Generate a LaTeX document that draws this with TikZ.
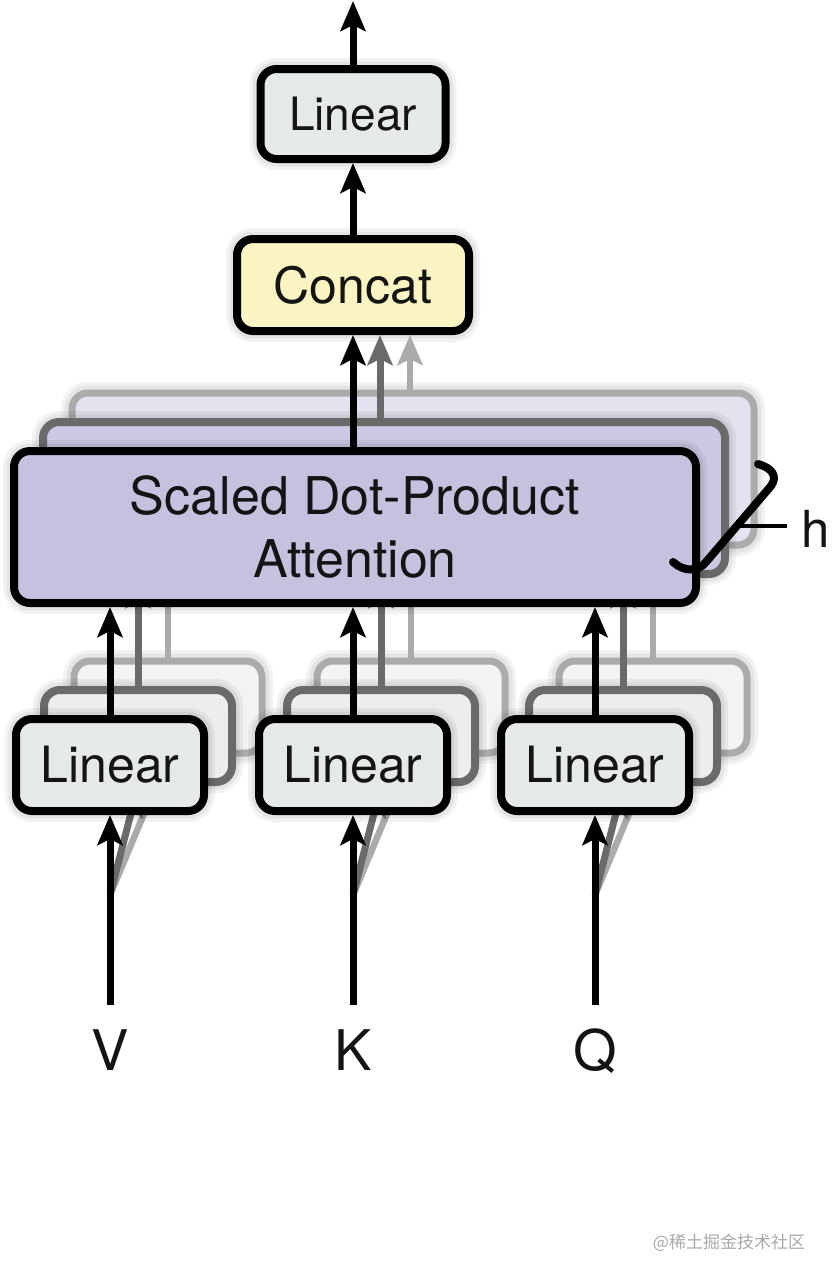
\documentclass[tikz,border=0pt]{standalone}
\usepackage{fontspec}
\setmainfont{TeX Gyre Heros}
\newfontfamily\cjkwm{Noto Sans CJK SC}
\usetikzlibrary{arrows.meta,calc}
\definecolor{txt}{HTML}{141414}
\definecolor{linA}{HTML}{E6E9E9}
\definecolor{linB}{HTML}{ECEEEE}
\definecolor{linC}{HTML}{F2F3F3}
\definecolor{conc}{HTML}{FAF4C2}
\definecolor{attA}{HTML}{C5C1DF}
\definecolor{attB}{HTML}{CCC8E3}
\definecolor{attC}{HTML}{E4E2EE}
\definecolor{grayB}{HTML}{6A6A6A}
\definecolor{grayC}{HTML}{ABABAB}
\definecolor{wm}{HTML}{A8A8A8}
\begin{document}
\begin{tikzpicture}[x=1pt,y=-1pt,
  haloeff/.style={preaction={draw=black,draw opacity=0.05,line width=22pt},
                  preaction={draw=black,draw opacity=0.06,line width=15pt}},
  boxbase/.style={haloeff,rounded corners=16pt,line width=8pt,inner sep=0pt,text=txt,align=center},
  linA/.style={boxbase,draw=black,fill=linA,minimum width=188pt,minimum height=92pt,font=\fontsize{50}{60}\selectfont},
  linB/.style={boxbase,draw=grayB,fill=linB,minimum width=188pt,minimum height=92pt},
  linC/.style={boxbase,draw=grayC,fill=linC,minimum width=188pt,minimum height=92pt,line width=7pt},
  attA/.style={boxbase,draw=black,fill=attA,minimum width=682pt,minimum height=152pt,font=\fontsize{52}{63}\selectfont},
  attB/.style={boxbase,draw=grayB,fill=attB,minimum width=682pt,minimum height=152pt},
  attC/.style={boxbase,draw=grayC,fill=attC,minimum width=682pt,minimum height=152pt,line width=7pt},
  tipA/.tip={Stealth[length=30pt,width=25pt,inset=6pt]},
  arrA/.style={line width=7pt,draw=black,-tipA},
  arrB/.style={line width=7pt,draw=grayB,-{Stealth[length=30pt,width=25pt,inset=6pt,fill=grayB]}},
  arrC/.style={line width=6.5pt,draw=grayC,-{Stealth[length=30pt,width=25pt,inset=6pt,fill=grayC]}},
  lbl/.style={inner sep=0pt,text=txt,font=\fontsize{56}{60}\selectfont}
]
\useasboundingbox (0,0) rectangle (834,1280);

% ---------- back layer (third head) ----------
\node[attC] (att3) at (413,469) {};
\node[linC] (lv3) at (168,707) {};
\node[linC] (lk3) at (411,707) {};
\node[linC] (lq3) at (653,707) {};

\coordinate (vin) at (110,1005);
\coordinate (kin) at (353,1005);
\coordinate (qin) at (595,1005);
\coordinate (vs) at (110,895);
\coordinate (ks) at (353,895);
\coordinate (qs) at (595,895);

\draw[arrC] (vs) -- (lv3.south);
\draw[arrC] (ks) -- (lk3.south);
\draw[arrC] (qs) -- (lq3.south);
\draw[arrC] (lv3.north) -- (lv3.north |- att3.south);
\draw[arrC] (lk3.north) -- (lk3.north |- att3.south);
\draw[arrC] (lq3.north) -- (lq3.north |- att3.south);

% ---------- middle layer (second head) ----------
\node[attB] (att2) at (384,498) {};
\node[linB] (lv2) at (138,736) {};
\node[linB] (lk2) at (381,736) {};
\node[linB] (lq2) at (623,736) {};

\draw[arrB] (vs) -- (lv2.south);
\draw[arrB] (ks) -- (lk2.south);
\draw[arrB] (qs) -- (lq2.south);
\draw[arrB] (lv2.north) -- (lv2.north |- att2.south);
\draw[arrB] (lk2.north) -- (lk2.north |- att2.south);
\draw[arrB] (lq2.north) -- (lq2.north |- att2.south);

% ---------- top part ----------
\node[linA,font=\fontsize{46}{56}\selectfont,minimum width=185pt,minimum height=90pt] (lout) at (353,114) {Linear};
\node[boxbase,draw=black,fill=conc,minimum width=232pt,minimum height=92pt,font=\fontsize{50}{60}\selectfont] (concat) at (353,285) {Concat};
\coordinate (top) at (353,1);
\coordinate (c2) at ($(concat.south)+(27,0)$);
\coordinate (c3) at ($(concat.south)+(57,0)$);

\draw[arrC] (c3 |- att3.north) -- (c3);
\draw[arrB] (c2 |- att2.north) -- (c2);

% ---------- front layer ----------
\node[attA] (att) at (355,527) {Scaled Dot-Product\\Attention};
\node[linA] (lv) at (110,765) {Linear};
\node[linA] (lk) at (353,765) {Linear};
\node[linA] (lq) at (595,765) {Linear};

\draw[arrA] (concat.south |- att.north) -- (concat.south);
\draw[arrA] (concat.north) -- (lout.south);
\draw[arrA] (lout.north) -- (top);

\draw[arrA] (lv.north) -- (lv.north |- att.south);
\draw[arrA] (lk.north) -- (lk.north |- att.south);
\draw[arrA] (lq.north) -- (lq.north |- att.south);

\draw[arrA] (vin) -- (lv.south);
\draw[arrA] (kin) -- (lk.south);
\draw[arrA] (qin) -- (lq.south);

\node[lbl,anchor=base] (V) at (110,1070) {V};
\node[lbl,anchor=base] (K) at (353,1070) {K};
\node[lbl,anchor=base] (Q) at (595,1070) {Q};

% ---------- h bracket ----------
\draw[line width=8pt,line cap=round,line join=round]
  (758,464) .. controls (772,468) and (778,476) .. (771,486)
  -- (706,562) .. controls (698,572) and (684,572) .. (673,562);
\draw[line width=4pt] (737,526) -- (787,526);
\node[lbl,anchor=base,font=\fontsize{51}{60}\selectfont] (hlab) at (816,547) {h};

% ---------- watermark ----------
\node[inner sep=0pt,text=wm,font=\cjkwm\fontsize{17}{20}\selectfont] (wmk) at (729,1243) {@稀土掘金技术社区};
\end{tikzpicture}
\end{document}
